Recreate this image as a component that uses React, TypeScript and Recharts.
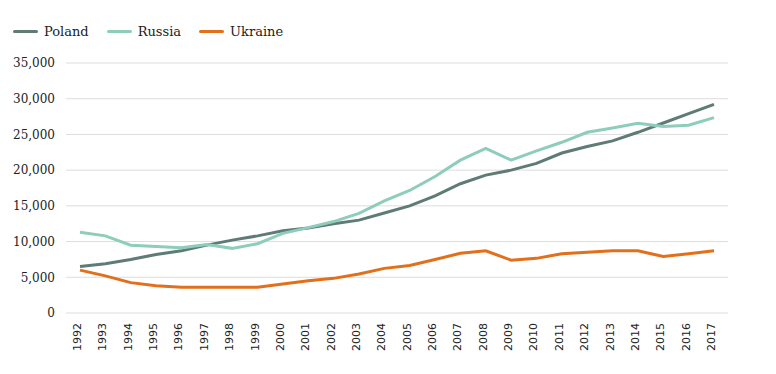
import React from 'react';
import { LineChart, Line, XAxis, YAxis, CartesianGrid, Legend } from 'recharts';

const years = [
  '1992', '1993', '1994', '1995', '1996', '1997', '1998', '1999', '2000', '2001', '2002', '2003', '2004',
  '2005', '2006', '2007', '2008', '2009', '2010', '2011', '2012', '2013', '2014', '2015', '2016', '2017',
];

const poland = [
  6500, 6900, 7500, 8200, 8700, 9500, 10200, 10800, 11500, 11900, 12500, 13000, 14000,
  15000, 16400, 18100, 19300, 20000, 20950, 22400, 23300, 24100, 25300, 26600, 27900, 29200,
];

const russia = [
  11300, 10800, 9500, 9300, 9150, 9600, 9050, 9700, 11150, 11950, 12800, 13950, 15700,
  17150, 19100, 21400, 23050, 21400, 22700, 23900, 25300, 25900, 26550, 26100, 26300, 27350,
];

const ukraine = [
  6000, 5200, 4250, 3800, 3600, 3600, 3600, 3600, 4050, 4500, 4850, 5450, 6250,
  6650, 7500, 8350, 8700, 7400, 7650, 8300, 8500, 8700, 8700, 7900, 8300, 8700,
];

const yTicks = [0, 5000, 10000, 15000, 20000, 25000, 30000, 35000];

const series = [
  { key: 'Poland', color: '#5f7b76' },
  { key: 'Russia', color: '#8ecdbb' },
  { key: 'Ukraine', color: '#e2701b' },
];

const data = years.map((year, i) => ({
  year,
  Poland: poland[i],
  Russia: russia[i],
  Ukraine: ukraine[i],
}));

const serif = '"DejaVu Serif", serif';
const sans = '"DejaVu Sans", sans-serif';

function YearTick({ x, y, payload }: any) {
  return (
    <g transform={`translate(${x},${y})`}>
      <text
        transform="rotate(-90)"
        x={-10}
        dy={1}
        textAnchor="end"
        fontFamily={sans}
        fontSize={11}
        fill="#222"
      >
        {payload.value}
      </text>
    </g>
  );
}

function ChartLegend() {
  return (
    <div style={{ display: 'flex', alignItems: 'center', height: 20, fontFamily: serif, fontSize: 13, color: '#222' }}>
      {series.map((s) => (
        <div key={s.key} style={{ display: 'flex', alignItems: 'center', marginRight: 18 }}>
          <span style={{ display: 'inline-block', width: 25, height: 3, borderRadius: 2, background: s.color, marginRight: 6 }} />
          <span>{s.key}</span>
        </div>
      ))}
    </div>
  );
}

export default function App() {
  return (
    <div style={{ width: 760, height: 358, background: '#fff' }}>
      <LineChart width={760} height={358} data={data} margin={{ top: 35, right: 40, bottom: 3, left: 0 }}>
        <Legend
          verticalAlign="top"
          align="left"
          content={<ChartLegend />}
          wrapperStyle={{ top: 13, left: 5, width: 400 }}
        />
        <CartesianGrid vertical={false} stroke="#dddddd" />
        <XAxis
          dataKey="year"
          interval={0}
          axisLine={false}
          tickLine={false}
          tickSize={0}
          tickMargin={0}
          height={50}
          padding={{ left: 14, right: 14 }}
          tick={<YearTick />}
        />
        <YAxis
          domain={[0, 35000]}
          ticks={yTicks}
          width={58}
          axisLine={false}
          tickLine={false}
          tickSize={6}
          tickMargin={5}
          tickFormatter={(v) => v.toLocaleString('en-US')}
          tick={{ fontFamily: serif, fontSize: 12, fill: '#222' }}
        />
        {series.map((s) => (
          <Line
            key={s.key}
            type="linear"
            dataKey={s.key}
            stroke={s.color}
            strokeWidth={3}
            dot={false}
            activeDot={false}
            isAnimationActive={false}
          />
        ))}
      </LineChart>
    </div>
  );
}
